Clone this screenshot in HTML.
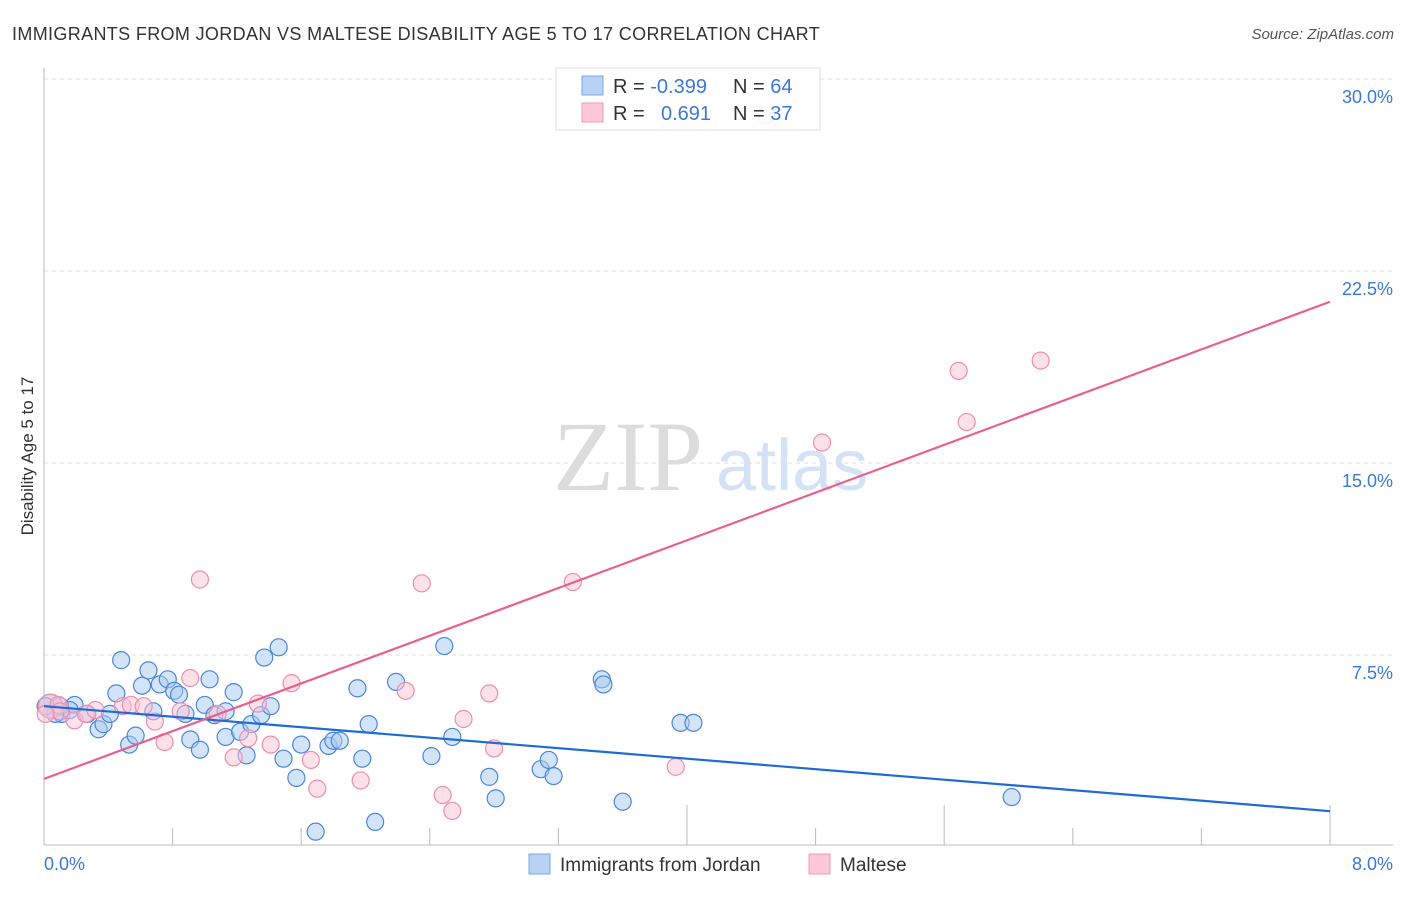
<!DOCTYPE html>
<html><head><meta charset="utf-8"><style>
body{margin:0;background:#fff;font-family:"Liberation Sans",sans-serif}
</style></head><body>
<svg id="chart" width="1406" height="892" viewBox="0 0 1406 892" xmlns="http://www.w3.org/2000/svg" font-family="Liberation Sans, sans-serif">
<text x="12" y="40" font-size="18" fill="#333" letter-spacing="0.35">IMMIGRANTS FROM JORDAN VS MALTESE DISABILITY AGE 5 TO 17 CORRELATION CHART</text>
<text x="1394" y="39" font-size="15" fill="#555" font-style="italic" text-anchor="end">Source: ZipAtlas.com</text>
<g>
<text x="553" y="490" font-size="100" font-family="Liberation Serif, serif" fill="#dcdcdc">ZIP</text>
<text x="716" y="490" font-size="72" fill="#d4e2f5">atlas</text>
</g>
<g id="grid"></g>
<line x1="44" y1="68" x2="44" y2="845" stroke="#bbb"/>
<line x1="44" y1="845" x2="1393" y2="845" stroke="#bbb"/>
<g id="xticks"></g>
<text x="33" y="456" font-size="17" fill="#333" transform="rotate(-90 33 456)" text-anchor="middle">Disability Age 5 to 17</text>
<text x="44" y="870" font-size="18" fill="#3b78d8">0.0%</text>
<text x="1393" y="870" font-size="18" fill="#3b78d8" text-anchor="end">8.0%</text>
<g id="pts"></g>
<g id="lines"></g>
<g>
<rect x="556" y="68" width="264" height="62" fill="#fff" fill-opacity="0.88" stroke="#ddd"/>
<rect x="582" y="76" width="21" height="19" fill="#b7d2f4" stroke="#7aa8e6"/>
<rect x="582" y="103" width="21" height="19" fill="#fcc8d7" stroke="#f29ab5"/>
<text x="613" y="93" font-size="20" fill="#333">R = <tspan fill="#3b78d8">-0.399</tspan></text>
<text x="733" y="93" font-size="20" fill="#333">N = <tspan fill="#3b78d8">64</tspan></text>
<text x="613" y="120" font-size="20" fill="#333">R = <tspan fill="#3b78d8" x="661">0.691</tspan></text>
<text x="733" y="120" font-size="20" fill="#333">N = <tspan fill="#3b78d8">37</tspan></text>
</g>
<g>
<rect x="529" y="854" width="21" height="20" fill="#b7d2f4" stroke="#7aa8e6"/>
<text x="560" y="871" font-size="19" fill="#333">Immigrants from Jordan</text>
</g>
<g>
<rect x="809" y="854" width="21" height="20" fill="#fcc8d7" stroke="#f29ab5"/>
<text x="840" y="871" font-size="19" fill="#333">Maltese</text>
</g>
</svg>
<script>
const yTicks=[7.5,15,22.5,30];
const yTickLabels=["7.5%","15.0%","22.5%","30.0%"];
const xTickVals=[0.8,1.6,2.4,3.2,4.0,4.8,5.6,6.4,7.2,8.0];
const blueX=[0.04,0.11,0.19,0.27,0.34,0.37,0.45,0.48,0.53,0.57,0.61,0.65,0.68,0.72,0.77,0.81,0.84,0.88,0.91,0.97,1.0,1.03,1.06,1.13,1.13,1.18,1.22,1.26,1.29,1.35,1.37,1.41,1.46,1.49,1.57,1.60,1.69,1.77,1.80,1.84,1.95,1.98,2.02,2.06,2.19,2.41,2.49,2.54,2.77,2.81,3.09,3.14,3.17,3.47,3.48,3.60,3.96,4.04,6.02,0.10,0.16,0.41,0.07,0.01];
const blueY=[5.5,5.2,5.55,5.2,4.6,4.8,6.0,7.3,4.0,4.35,6.3,6.9,5.3,6.35,6.55,6.1,5.95,5.2,4.2,3.8,5.55,6.55,5.15,4.3,5.3,6.05,4.5,3.58,4.8,5.15,7.4,5.5,7.8,3.45,2.7,4.0,0.6,3.95,4.15,4.15,6.2,3.45,4.8,0.98,6.45,3.55,7.85,4.3,2.74,1.9,3.04,3.4,2.77,6.55,6.35,1.77,4.85,4.85,1.95,5.5,5.35,5.2,5.2,5.5];
const pinkX=[0.04,0.09,0.19,0.26,0.32,0.49,0.54,0.62,0.69,0.75,0.85,0.91,0.97,1.08,1.18,1.27,1.33,1.41,1.54,1.66,1.70,1.97,2.25,2.35,2.48,2.54,2.61,2.77,2.80,3.29,3.93,4.84,5.69,5.74,6.20,0.10,0.01,4.49];
const pinkY=[5.5,5.55,4.95,5.2,5.35,5.5,5.55,5.5,4.9,4.1,5.3,6.6,10.45,5.2,3.5,4.25,5.6,4.0,6.4,3.4,2.28,2.6,6.1,10.3,2.03,1.41,5.0,6.0,3.85,10.35,3.13,15.8,18.6,16.6,19.0,5.3,5.2,28.6];
const blueFit=[5.5,1.4];
const pinkFit=[2.66,21.3];
const X0=44,X1=1330,Y0=847,PPY=25.6;
const sx=v=>X0+(X1-X0)*v/8;
const sy=v=>Y0-v*PPY;
const NS="http://www.w3.org/2000/svg";
const grid=document.getElementById('grid');
yTicks.forEach((t,i)=>{
 const l=document.createElementNS(NS,'line');
 l.setAttribute('x1',44);l.setAttribute('x2',1393);l.setAttribute('y1',sy(t));l.setAttribute('y2',sy(t));
 l.setAttribute('stroke','#ddd');l.setAttribute('stroke-dasharray','4,4');
 
 
 grid.appendChild(l);
 const tx=document.createElementNS(NS,'text');
 tx.setAttribute('x',1393);tx.setAttribute('y',sy(t)+24);tx.setAttribute('text-anchor','end');
 tx.setAttribute('font-size','18');tx.setAttribute('fill','#3b78d8');tx.textContent=yTickLabels[i];
 
 
 grid.appendChild(tx);
});
const xt=document.getElementById('xticks');
xTickVals.forEach((v,i)=>{
 const l=document.createElementNS(NS,'line');
 const tall=(i===4||i===6||i===9);
 l.setAttribute('x1',sx(v));l.setAttribute('x2',sx(v));l.setAttribute('y1',tall?805:828);l.setAttribute('y2',845);
 l.setAttribute('stroke','#bbb');
 
 
 xt.appendChild(l);
});
const pts=document.getElementById('pts');
function dot(x,y,fill,stroke,name,r){
 const c=document.createElementNS(NS,'circle');
 c.setAttribute('cx',sx(x));c.setAttribute('cy',sy(y));c.setAttribute('r',r);
 c.setAttribute('fill',fill);c.setAttribute('fill-opacity','0.5');c.setAttribute('stroke',stroke);c.setAttribute('stroke-width','1.2');
 
 
 pts.appendChild(c);
}
blueX.forEach((x,i)=>dot(x,blueY[i],'#a9c9f2','#4a87dd','jordan-point',i===0?12:8.5));
pinkX.forEach((x,i)=>dot(x,pinkY[i],'#fbc3d3','#ee8fae','maltese-point',i===0?12:8.5));
const lines=document.getElementById('lines');
function fit(a,col,name){
 const l=document.createElementNS(NS,'line');
 l.setAttribute('x1',sx(0));l.setAttribute('x2',sx(8));l.setAttribute('y1',sy(a[0]));l.setAttribute('y2',sy(a[1]));
 l.setAttribute('stroke',col);l.setAttribute('stroke-width','2.2');
 
 
 lines.appendChild(l);
}
fit(blueFit,'#1f6bd6','jordan-trendline');
fit(pinkFit,'#e8608e','maltese-trendline');
</script>
</body></html>
